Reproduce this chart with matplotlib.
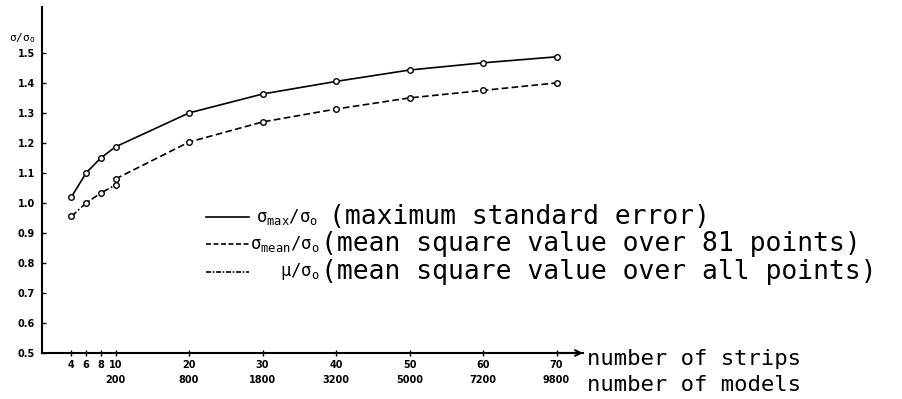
import matplotlib.pyplot as plt

# data
strips = [4, 6, 8, 10, 20, 30, 40, 50, 60, 70]
models = ["", "", "", "200", "800", "1800", "3200", "5000", "7200", "9800"]

max_x = [4, 6, 8, 10, 20, 30, 40, 50, 60, 70]
max_y = [1.02, 1.10, 1.15, 1.187, 1.30, 1.363, 1.405, 1.443, 1.467, 1.487]

mean_x = [10, 20, 30, 40, 50, 60, 70]
mean_y = [1.08, 1.203, 1.27, 1.313, 1.35, 1.375, 1.40]

mu_x = [4, 6, 8, 10]
mu_y = [0.955, 1.0, 1.033, 1.06]

yticks = [0.5, 0.6, 0.7, 0.8, 0.9, 1.0, 1.1, 1.2, 1.3, 1.4, 1.5]
ylabels = ["0.5", "0.6", "0.7", "0.8", "0.9", "1.0", "1.1", "1.2", "1.3", "1.4", "1.5"]

W, H = 902, 399
MONO = "DejaVu Sans Mono"

plt.rcParams["mathtext.fontset"] = "custom"
plt.rcParams["mathtext.rm"] = MONO
plt.rcParams["mathtext.it"] = MONO

fig = plt.figure(figsize=(W / 100, H / 100), dpi=100)
ax = fig.add_axes([42 / W, (H - 353) / H, (583 - 42) / W, (353 - 7) / H])


def px(x, y):
    return x / W, 1 - y / H


mk = dict(marker="o", ms=4, mfc="white", mec="black", mew=1.0, color="black", lw=1.2)
ax.plot(max_x, max_y, linestyle="-", **mk)
ax.plot(mean_x, mean_y, linestyle=(0, (4, 2)), **mk)
ax.plot(mu_x, mu_y, linestyle=(0, (4, 1.5, 1, 1.5)), **mk)

ax.set_xlim(0, 73.6)
ax.set_ylim(0.5, 1.653)

for s in ["top", "right"]:
    ax.spines[s].set_visible(False)
ax.spines["left"].set_linewidth(1.5)
ax.spines["bottom"].set_linewidth(1.5)

ax.set_yticks(yticks)
ax.set_yticklabels(ylabels, fontsize=7, fontweight="bold")
ax.tick_params(axis="y", direction="in", length=3, width=1, pad=5)

xlabels = [f"{s}\n{m}" if m else f"{s}\n" for s, m in zip(strips, models)]
ax.set_xticks(strips)
ax.set_xticklabels(xlabels, fontsize=7, fontweight="bold", linespacing=1.6)
ax.tick_params(axis="x", direction="inout", length=4, width=1, pad=3)

# arrow at the end of the x axis
ax.annotate("", xy=(1.0, 0), xytext=(0.95, 0), xycoords="axes fraction",
            arrowprops=dict(arrowstyle="->", lw=1.5, color="black",
                            shrinkA=0, shrinkB=0))

fig.text(*px(22, 38), r"$\sigma/\sigma_o$", fontsize=8, fontweight="bold",
         ha="center", va="center")

fig.text(*px(587, 359), "number of strips", family=MONO, fontsize=16,
         ha="left", va="center")
fig.text(*px(587, 385), "number of models", family=MONO, fontsize=16,
         ha="left", va="center")

# legend drawn by hand to keep the typewriter alignment
leg_rows = [
    (217, "-", r"$\sigma_{max}/\sigma_o$", 318, "(maximum standard error)", 329),
    (244, (0, (3, 1.5)), r"$\sigma_{mean}/\sigma_o$", 320, "(mean square value over 81 points)", 321),
    (272, (0, (3, 1, 1, 1)), r"$\mu/\sigma_o$", 320, "(mean square value over all points)", 321),
]
for y, ls, sym, xe, desc, xp in leg_rows:
    x0, y0 = px(206, y)
    x1, _ = px(249, y)
    fig.add_artist(plt.Line2D([x0, x1], [y0, y0], color="black", lw=1.2, linestyle=ls))
    fig.text(*px(xe, y), sym, fontsize=12.5, ha="right", va="center")
    fig.text(*px(xp, y), desc, family=MONO, fontsize=19, ha="left", va="center")

fig.savefig("out.png", dpi=100, facecolor="white")
